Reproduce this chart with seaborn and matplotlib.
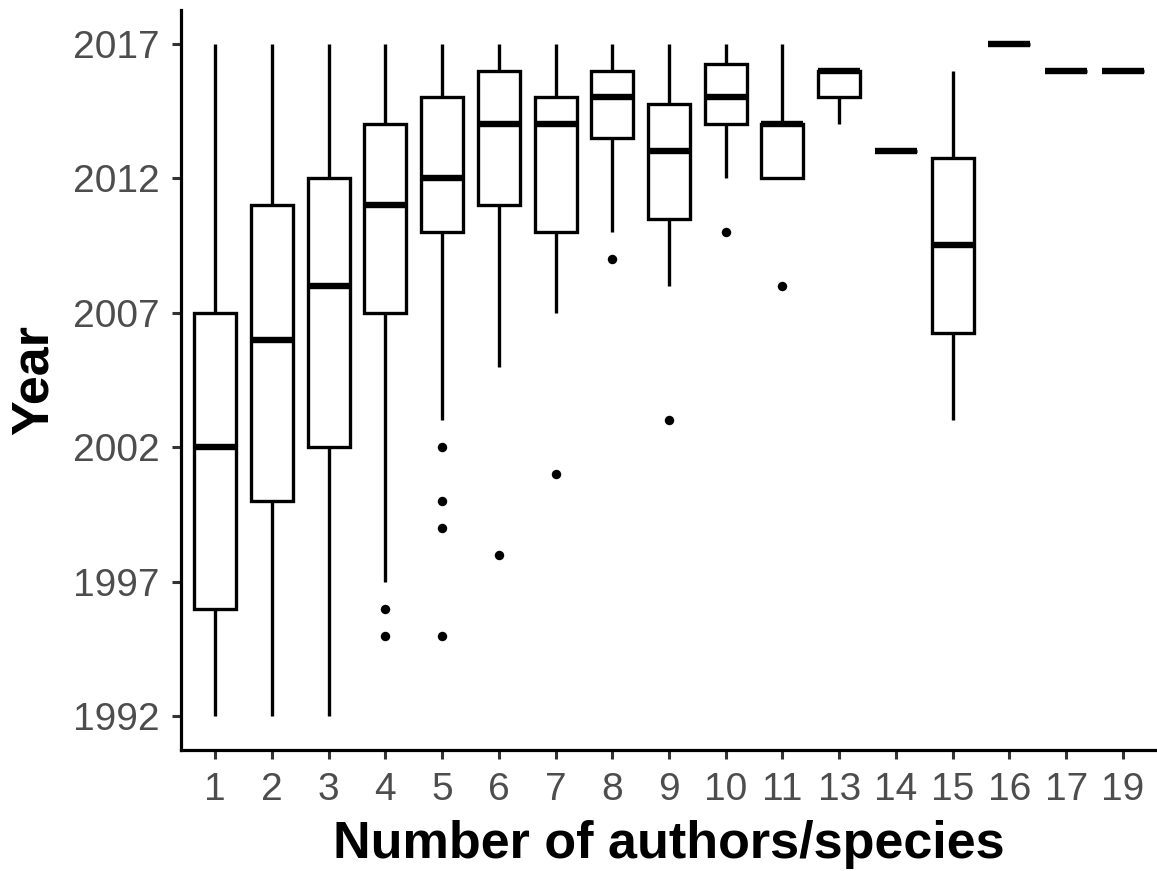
import numpy as np
import pandas as pd
import matplotlib
matplotlib.use('Agg')
import matplotlib.pyplot as plt
import seaborn as sns

# --- Data ---
authors = ['1', '2', '3', '4', '5', '6', '7', '8', '9', '10', '11',
           '13', '14', '15', '16', '17', '19']
whisker_low = [1992, 1992, 1992, 1997, 2003, 2005, 2007, 2010, 2008, 2012, 2012,
               2014, 2013, 2003, 2017, 2016, 2016]
q1 = [1996, 2000, 2002, 2007, 2010, 2011, 2010, 2013.5, 2010.5, 2014, 2012,
      2015, 2013, 2006.25, 2017, 2016, 2016]
median = [2002, 2006, 2008, 2011, 2012, 2014, 2014, 2015, 2013, 2015, 2014,
          2016, 2013, 2009.5, 2017, 2016, 2016]
q3 = [2007, 2011, 2012, 2014, 2015, 2016, 2015, 2016, 2014.75, 2016.25, 2014,
      2016, 2013, 2012.75, 2017, 2016, 2016]
whisker_high = [2017, 2017, 2017, 2017, 2017, 2017, 2017, 2017, 2017, 2017, 2017,
                2016, 2013, 2016, 2017, 2016, 2016]

outlier_authors = ['4', '4', '5', '5', '5', '5', '6', '7', '8', '9', '10', '11']
outlier_years = [1996, 1995, 2002, 2000, 1999, 1995, 1998, 2001, 2009, 2003, 2010, 2008]

# five points per group give exactly these quartiles / whisker ends
df = pd.DataFrame({
    'authors': np.repeat(authors, 5),
    'year': np.column_stack([whisker_low, q1, median, q3, whisker_high]).ravel(),
})
df_out = pd.DataFrame({'authors': outlier_authors, 'year': outlier_years})

sns.set_style('ticks')
plt.rcParams['font.family'] = ['Liberation Sans', 'DejaVu Sans']

fig = plt.figure(figsize=(11.57, 8.71), dpi=100)
ax = fig.add_axes([181 / 1157, 1 - 750 / 871, 1 - 181 / 1157, (750 - 10) / 871])

sns.boxplot(data=df, x='authors', y='year', order=authors, whis=(0, 100),
            width=0.74, color='white', linecolor='black', linewidth=2.4,
            showcaps=False, showfliers=False,
            medianprops={'linewidth': 4.6, 'solid_capstyle': 'butt'},
            whiskerprops={'solid_capstyle': 'butt'}, ax=ax)
sns.stripplot(data=df_out, x='authors', y='year', order=authors, jitter=False,
              color='black', size=6.8, linewidth=0, ax=ax)

ax.set_xlim(-0.6, len(authors) - 0.4)
ax.set_ylim(1990.75, 2018.25)
ax.set_yticks([1992, 1997, 2002, 2007, 2012, 2017])

ax.set_xlabel('Number of authors/species', fontsize=37.5, fontweight='bold',
              color='black', labelpad=9)
ax.set_ylabel('Year', fontsize=37.5, fontweight='bold', color='black', labelpad=10)
ax.tick_params(axis='both', labelsize=28, labelcolor='#4D4D4D', color='#333333',
               length=6.5, width=2.2)
ax.tick_params(axis='x', pad=9)
ax.tick_params(axis='y', pad=9)

sns.despine(ax=ax)
for side in ['left', 'bottom']:
    ax.spines[side].set_linewidth(2.3)
    ax.spines[side].set_color('black')

fig.savefig('out.png', dpi=100)
